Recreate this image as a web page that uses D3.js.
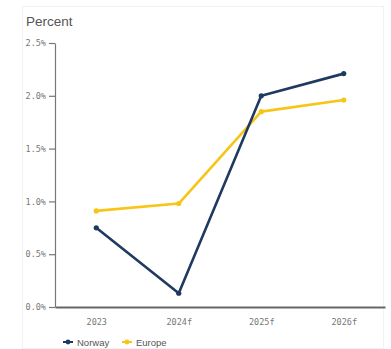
<!DOCTYPE html>
<html>
<head>
<meta charset="utf-8">
<script src="https://cdn.jsdelivr.net/npm/d3@7"></script>
<style>
  html, body { margin: 0; padding: 0; background: #fff; }
  svg { display: block; }
</style>
</head>
<body>
<svg id="chart" width="391" height="349"></svg>
<script>
// GDP growth forecasts, percent
const years = ["2023", "2024f", "2025f", "2026f"];
const norway = [0.75, 0.13, 2.0, 2.21];
const europe = [0.91, 0.98, 1.85, 1.96];
const yTicks = [0, 0.5, 1.0, 1.5, 2.0, 2.5];
const seriesNames = ["Norway", "Europe"];
const seriesColors = ["#1f3a60", "#f6c516"];

const svg = d3.select("#chart");
const W = 391, H = 349;
const m = { left: 55, right: 6, top: 43, bottom: 42 };

// faint card outline
svg.append("rect")
  .attr("x", 22.5).attr("y", 6.5)
  .attr("width", 361).attr("height", 342)
  .attr("fill", "none").attr("stroke", "#f2f2f2");

const x = d3.scalePoint().domain(years)
  .range([m.left, W - m.right]).padding(0.5);
const y = d3.scaleLinear().domain([0, 2.5])
  .range([H - m.bottom, m.top]);

svg.append("text")
  .attr("x", 26).attr("y", 26)
  .attr("font-family", "Liberation Sans, Arial, sans-serif")
  .attr("font-size", 13.5)
  .attr("fill", "#555")
  .text("Percent");

// y axis
const yAxis = svg.append("g")
  .attr("transform", `translate(${m.left},0)`)
  .call(d3.axisLeft(y).tickValues(yTicks)
    .tickFormat(d => d.toFixed(1) + "%").tickSize(6).tickSizeOuter(0));
yAxis.select(".domain").attr("stroke", "#777").attr("stroke-width", 1.2);
yAxis.selectAll(".tick line").attr("stroke", "#777").attr("stroke-width", 1.2);
yAxis.selectAll(".tick text")
  .attr("font-family", "DejaVu Sans Mono, monospace")
  .attr("font-size", 8.5).attr("fill", "#777").attr("x", -9);

// x axis
const xAxis = svg.append("g")
  .attr("transform", `translate(0,${H - m.bottom})`)
  .call(d3.axisBottom(x).tickSize(0).tickSizeOuter(0));
xAxis.select(".domain").attr("stroke", "#666").attr("stroke-width", 2);
xAxis.selectAll(".tick text")
  .attr("font-family", "DejaVu Sans Mono, monospace")
  .attr("font-size", 8.5).attr("fill", "#777").attr("dy", "1.75em");

const line = d3.line().x((d, i) => x(years[i])).y(d => y(d));
[europe, norway].forEach((vals, k) => {
  const color = k === 0 ? seriesColors[1] : seriesColors[0];
  svg.append("path").datum(vals)
    .attr("d", line).attr("fill", "none")
    .attr("stroke", color).attr("stroke-width", 2.6)
    .attr("stroke-linejoin", "round");
  svg.selectAll(null).data(vals).enter().append("circle")
    .attr("cx", (d, i) => x(years[i])).attr("cy", d => y(d))
    .attr("r", 2.6).attr("fill", color);
});

// legend
const legend = svg.append("g").attr("transform", "translate(63,342)");
const offsets = [0, 59];
seriesNames.forEach((name, i) => {
  const g = legend.append("g").attr("transform", `translate(${offsets[i]},0)`);
  g.append("line").attr("x1", 0).attr("x2", 10).attr("y1", 0).attr("y2", 0)
    .attr("stroke", seriesColors[i]).attr("stroke-width", 2);
  g.append("circle").attr("cx", 5).attr("cy", 0).attr("r", 2.4).attr("fill", seriesColors[i]);
  g.append("text").attr("x", 14).attr("y", 3.5)
    .attr("font-family", "Liberation Sans, Arial, sans-serif")
    .attr("font-size", 9.5).attr("fill", "#555").text(name);
});
</script>
</body>
</html>
